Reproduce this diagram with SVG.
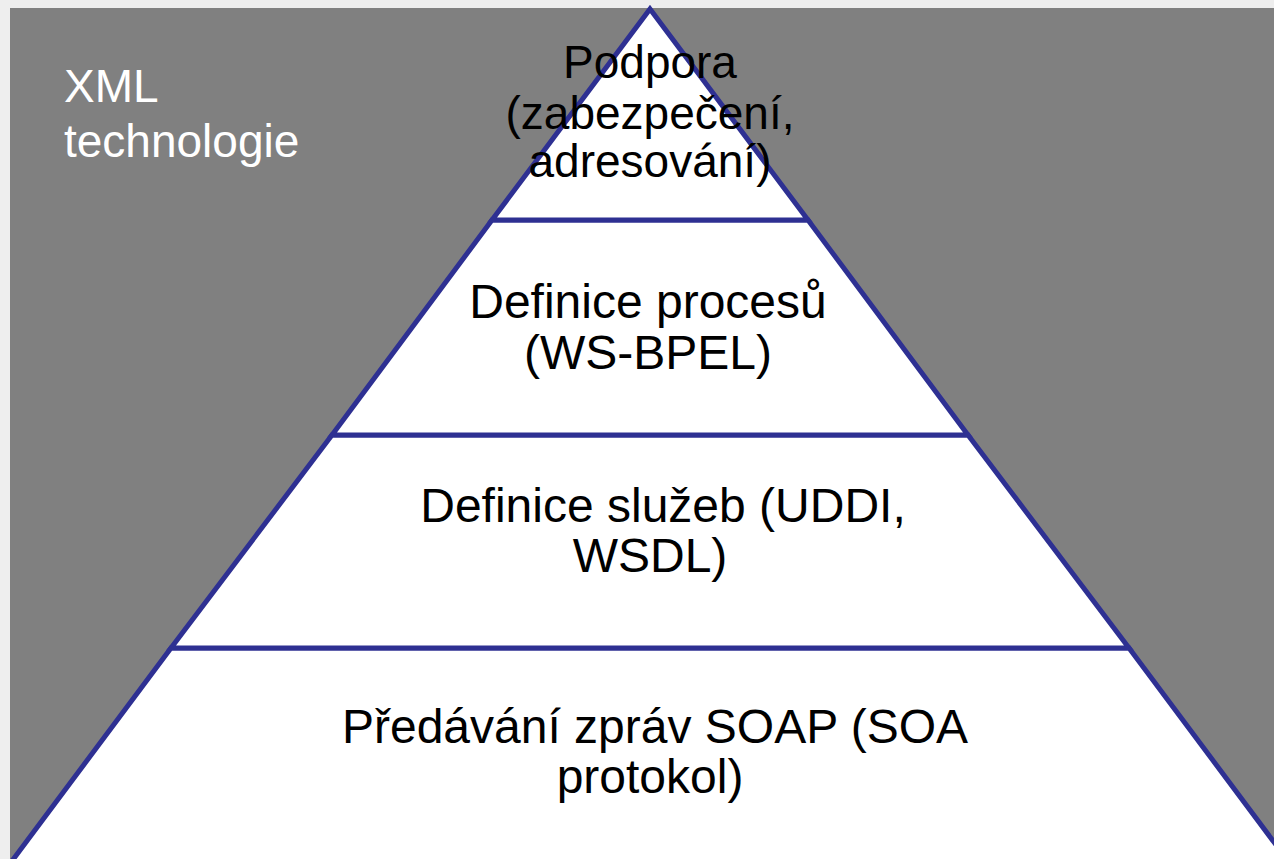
<svg xmlns="http://www.w3.org/2000/svg" width="1274" height="859" viewBox="0 0 1274 859">
<style>
.tier{fill:#ffffff;stroke:#2e3092;stroke-width:5;stroke-linejoin:miter}
.lbl{font-family:"Liberation Sans",Arial,sans-serif;font-size:48px;fill:#000000;text-anchor:middle}
.top{font-size:46px}
.side{font-family:"Liberation Sans",Arial,sans-serif;font-size:46px;fill:#ffffff}
</style>
<rect x="0" y="0" width="1274" height="859" fill="#eeeeee"/>
<rect x="10" y="8" width="1264" height="851" fill="#808080"/>
<g id="xml-label">
<text class="side" x="64" y="102">XML</text>
<text class="side" x="64" y="157">technologie</text>
</g>
<g id="tier-soap">
<polygon class="tier" points="171,648 1129,648 1415,1031 -115,1031"/>
<text class="lbl" x="655" y="743">Předávání zpráv SOAP (SOA</text>
<text class="lbl" x="650" y="793">protokol)</text>
</g>
<g id="tier-services">
<polygon class="tier" points="332,435 968,435 1129,648 171,648"/>
<text class="lbl" x="663" y="522">Definice služeb (UDDI,</text>
<text class="lbl" x="650" y="572">WSDL)</text>
</g>
<g id="tier-processes">
<polygon class="tier" points="492,220 808,220 968,435 332,435"/>
<text class="lbl" x="648" y="318">Definice procesů</text>
<text class="lbl" x="648" y="369">(WS-BPEL)</text>
</g>
<g id="tier-support">
<polygon class="tier" points="650,9 808,220 492,220"/>
<text class="lbl top" x="650" y="78">Podpora</text>
<text class="lbl top" x="650" y="129">(zabezpečení,</text>
<text class="lbl top" x="650" y="177">adresování)</text>
</g>
</svg>
